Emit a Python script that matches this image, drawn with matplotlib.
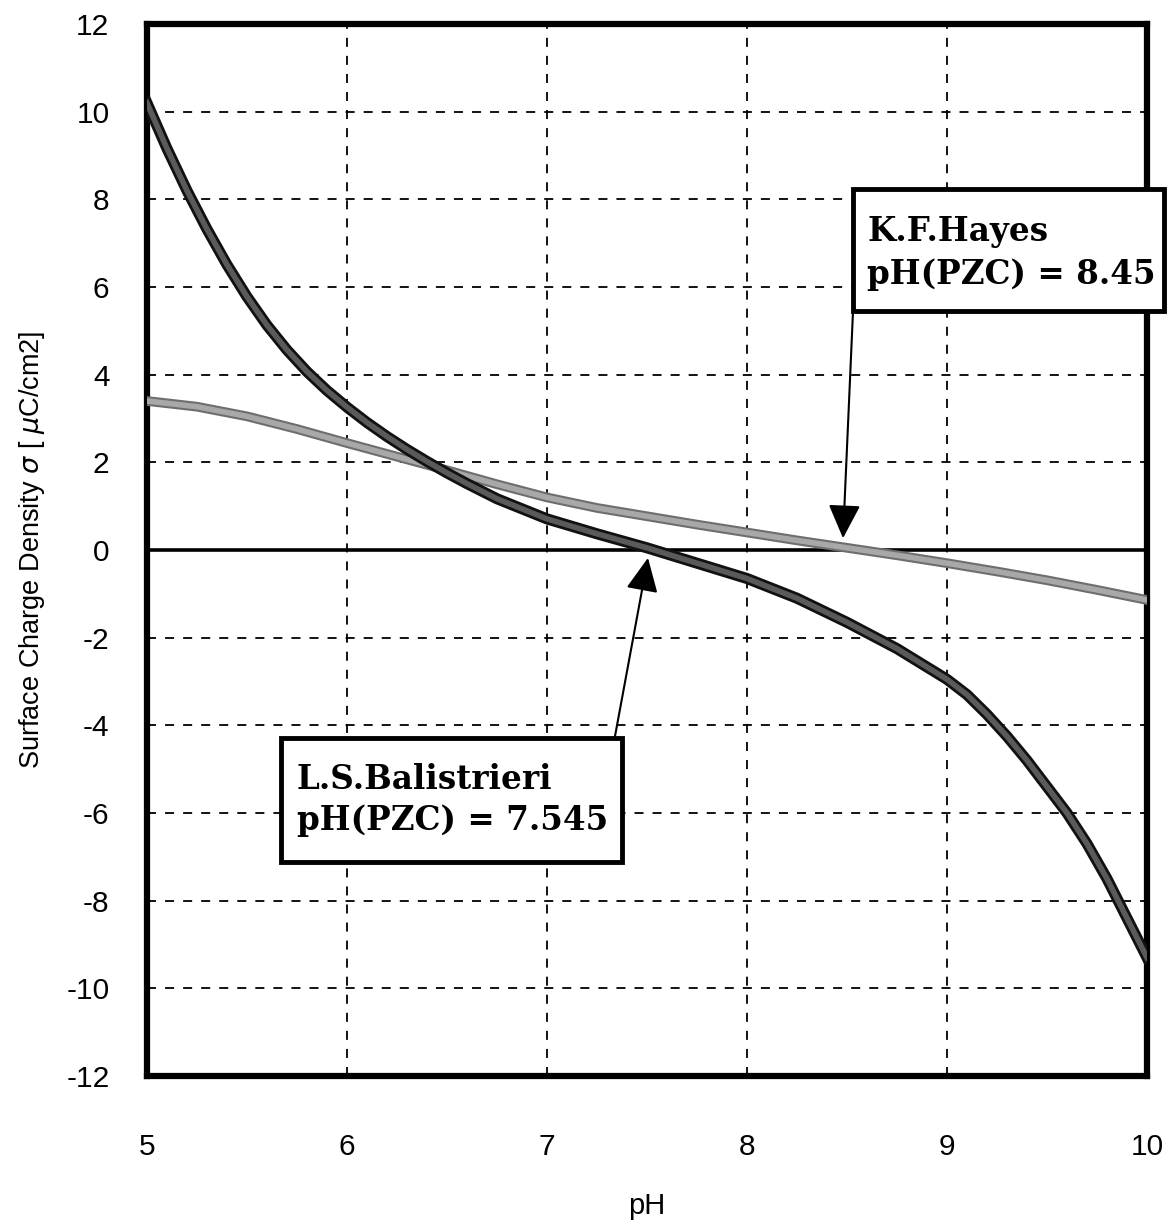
import matplotlib
matplotlib.use("Agg")
import matplotlib.pyplot as plt
import matplotlib.patheffects as pe
from matplotlib.patches import Rectangle

plt.rcParams["axes.unicode_minus"] = False

# pH values and surface charge density
ph_b = [5.0, 5.1, 5.2, 5.3, 5.4, 5.5, 5.6, 5.7, 5.8, 5.9, 6.0, 6.1, 6.2, 6.3,
        6.4, 6.5, 6.6, 6.75, 7.0, 7.25, 7.5, 7.75, 8.0, 8.25, 8.5, 8.75, 9.0,
        9.1, 9.2, 9.3, 9.4, 9.5, 9.6, 9.7, 9.8, 9.9, 10.0]
balistrieri = [10.2, 9.16, 8.2, 7.32, 6.51, 5.78, 5.13, 4.565, 4.07, 3.64, 3.26, 2.91, 2.59, 2.295,
               2.02, 1.76, 1.515, 1.17, 0.71, 0.37, 0.05, -0.3, -0.65, -1.1, -1.65, -2.25, -2.95,
               -3.3, -3.75, -4.25, -4.8, -5.4, -6.0, -6.7, -7.5, -8.4, -9.3]

ph_h = [5.0, 5.25, 5.5, 5.75, 6.0, 6.25, 6.5, 6.75, 7.0, 7.25, 7.5,
        7.75, 8.0, 8.25, 8.5, 8.75, 9.0, 9.25, 9.5, 9.75, 10.0]
hayes = [3.4, 3.27, 3.05, 2.76, 2.44, 2.13, 1.82, 1.5, 1.2, 0.96, 0.77,
         0.58, 0.4, 0.22, 0.05, -0.12, -0.3, -0.49, -0.69, -0.91, -1.14]

x_ticks = [5, 6, 7, 8, 9, 10]
y_ticks = list(range(-12, 13, 2))

hayes_lines = ["K.F.Hayes", "pH(PZC) = 8.45"]
bali_lines = ["L.S.Balistrieri", "pH(PZC) = 7.545"]

fig = plt.figure(figsize=(11.69, 12.25), dpi=100)
ax = fig.add_axes([0.1257, 0.1216, 0.8555, 0.8588])

ax.set_xlim(5, 10)
ax.set_ylim(-12, 12)
ax.set_xticks(x_ticks)
ax.set_yticks(y_ticks)
ax.tick_params(length=0, labelsize=21.5)
ax.tick_params(axis="y", pad=27)
ax.tick_params(axis="x", pad=41)
for lab in ax.get_xticklabels() + ax.get_yticklabels():
    lab.set_family("Liberation Sans")

ax.grid(True, color="black", linestyle=(0, (5, 5)), linewidth=1.3)
for sp in ax.spines.values():
    sp.set_linewidth(4.5)

# zero line
ax.axhline(0, color="black", linewidth=2.6, zorder=3)

ax.plot(ph_h, hayes, color="#a8a8a8", linewidth=4, zorder=4,
        path_effects=[pe.Stroke(linewidth=7, foreground="#6e6e6e"), pe.Normal()])
ax.plot(ph_b, balistrieri, color="#5a5a5a", linewidth=4, zorder=5,
        path_effects=[pe.Stroke(linewidth=8, foreground="#111111"), pe.Normal()])

ax.set_xlabel("pH", fontsize=21, family="Liberation Sans", labelpad=22)
ax.set_ylabel(r"Surface Charge Density $\sigma$ [ $\mu$C/cm2]", fontsize=19.5,
              family="Liberation Sans", labelpad=14)

# annotation boxes
txt_kw = dict(fontsize=23.5, fontweight="bold", family="DejaVu Serif",
              va="baseline", ha="left", zorder=11, clip_on=False)
ax.add_patch(Rectangle((8.53, 5.46), 1.555, 2.77, facecolor="white", edgecolor="black",
                       linewidth=3.5, zorder=10, clip_on=False))
ax.text(8.6, 7.06, hayes_lines[0], **txt_kw)
ax.text(8.6, 6.08, hayes_lines[1], **txt_kw)

ax.add_patch(Rectangle((5.67, -7.11), 1.705, 2.82, facecolor="white", edgecolor="black",
                       linewidth=3.5, zorder=10))
ax.text(5.75, -5.46, bali_lines[0], **txt_kw)
ax.text(5.75, -6.38, bali_lines[1], **txt_kw)

arrow = dict(arrowstyle="-|>,head_length=2.1,head_width=1.0", color="black",
             linewidth=1.5, shrinkA=0, shrinkB=0)
ax.annotate("", xy=(8.48, 0.27), xytext=(8.53, 5.44), arrowprops=arrow, zorder=9)
ax.annotate("", xy=(7.505, -0.18), xytext=(7.34, -4.25), arrowprops=arrow, zorder=9)

fig.savefig("out.png", dpi=100)
